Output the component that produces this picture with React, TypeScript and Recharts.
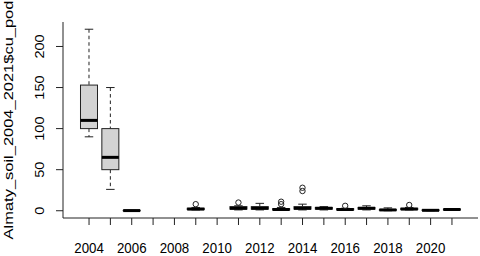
import React from 'react';
import { ComposedChart, Bar, XAxis, YAxis } from 'recharts';

const years = ['2004','2005','2006','2007','2008','2009','2010','2011','2012','2013','2014','2015','2016','2017','2018','2019','2020','2021'];
const mins:    (number|null)[] = [90, 26, 0,   null, null, 1,   null, 1, 1, 0.5, 1, 1, 0.5, 1, 0,   1,   0,   0.5];
const q1s:     (number|null)[] = [100, 50, 0,  null, null, 1.5, null, 2, 2, 1,   2, 2, 1,   2, 0.5, 1.5, 0.3, 1];
const medians: (number|null)[] = [110, 65, 0.2, null, null, 2,  null, 3, 3, 1.5, 3, 3, 1.5, 3, 1,   2,   0.5, 1.5];
const q3s:     (number|null)[] = [153, 100, 0.4, null, null, 3, null, 5, 5, 2.5, 5, 4, 2.5, 4, 1.5, 3,   1,   2];
const maxs:    (number|null)[] = [221, 150, 0.4, null, null, 4, null, 6, 9, 4,   8, 5, 3,   6, 3.5, 4,   1,   2];
const outliers: number[][] =     [[], [], [], [], [], [8], [], [10], [], [8, 11], [24, 28], [], [6], [], [], [7], [], []];
const yTicks = [0, 50, 100, 150, 200];
const yLabel = 'Almaty_soil_2004_2021$cu_pod';

const data = years.map((year, i) => {
  const mn = mins[i];
  const mx = maxs[i];
  if (mn == null || mx == null) return { year, range: null };
  const all = [mn, mx, ...outliers[i]];
  return {
    year,
    min: mn, q1: q1s[i], median: medians[i], q3: q3s[i], max: mx,
    out: outliers[i],
    lo: Math.min(...all), hi: Math.max(...all),
    range: [Math.min(...all), Math.max(...all)],
  };
});

const FONT = 'Liberation Sans, Arial, sans-serif';
const INK = '#222';

const BoxShape = (props: any) => {
  const { x, y, width, height, payload } = props;
  if (!payload || payload.min == null || payload.range == null) return null;
  const top = Math.min(y, y + height);
  const bottom = Math.max(y, y + height);
  const { lo, hi } = payload;
  const py = (v: number) => bottom - ((v - lo) / (hi - lo)) * (bottom - top);
  const cx = x + width / 2;
  const left = x;
  const right = x + width;
  const capL = cx - width / 4;
  const capR = cx + width / 4;
  const yq1 = py(payload.q1), yq3 = py(payload.q3), ymed = py(payload.median);
  const ymin = py(payload.min), ymax = py(payload.max);
  return (
    <g>
      <line x1={cx} x2={cx} y1={ymax} y2={yq3} stroke={INK} strokeDasharray="3.5 3" />
      <line x1={cx} x2={cx} y1={yq1} y2={ymin} stroke={INK} strokeDasharray="3.5 3" />
      <line x1={capL} x2={capR} y1={ymax} y2={ymax} stroke={INK} />
      <line x1={capL} x2={capR} y1={ymin} y2={ymin} stroke={INK} />
      <rect x={left} y={yq3} width={width} height={Math.max(yq1 - yq3, 0)} fill="#D3D3D3" stroke={INK} />
      <line x1={left} x2={right} y1={ymed} y2={ymed} stroke="#000" strokeWidth={3} />
      {payload.out.map((o: number, k: number) => (
        <circle key={k} cx={cx} cy={py(o)} r={2.7} fill="none" stroke={INK} />
      ))}
    </g>
  );
};

const XTick = (props: any) => {
  const { x, y, payload, index } = props;
  const i = payload?.index ?? index;
  if (i % 2 !== 0) return null;
  return (
    <text x={0} y={0} transform={`translate(${x}, ${y + 25.5}) scale(1, 1.15)`} textAnchor="middle" fontFamily={FONT} fontSize={13.3} fill="#000">
      {payload.value}
    </text>
  );
};

const YTick = (props: any) => {
  const { x, y, payload } = props;
  const bx = x - 10;
  return (
    <text x={0} y={0} transform={`translate(${bx}, ${y}) rotate(-90) scale(1.1, 1)`} textAnchor="middle" fontFamily={FONT} fontSize={13.2} fill="#000">
      {payload.value}
    </text>
  );
};

const YLabel = (props: any) => {
  const vb = props.viewBox || { x: 0, y: 22, width: 63, height: 196 };
  const bx = vb.x + 12.5;
  const cy = vb.y + vb.height / 2;
  return (
    <text x={0} y={0} transform={`translate(${bx}, ${cy}) rotate(-90) scale(1.22, 1)`} textAnchor="middle" fontFamily={FONT} fontSize={13.5} fill="#000">
      {yLabel}
    </text>
  );
};

export default function App() {
  return (
    <div style={{ position: 'absolute', left: 0, top: 0, background: '#fff' }}>
      <ComposedChart width={480} height={256} data={data} margin={{ top: 22, right: 2, bottom: 0, left: 0 }} barCategoryGap="10%">
        <XAxis xAxisId="b" dataKey="year" type="category" height={38} padding={{ left: 15.36, right: 15.36 }}
          tickSize={7} tickLine={{ stroke: INK }} axisLine={{ stroke: INK }} tick={<XTick />} interval={0} />
        <XAxis xAxisId="t" dataKey="year" type="category" orientation="top" height={0} tick={false} tickLine={false}
          axisLine={{ stroke: INK }} />
        <YAxis yAxisId="l" type="number" domain={[-8.84, 229.8]} allowDataOverflow ticks={yTicks} width={63}
          tickSize={7} tickLine={{ stroke: INK }} axisLine={{ stroke: INK }} tick={<YTick />} label={<YLabel />} />
        <YAxis yAxisId="r" type="number" orientation="right" domain={[-8.84, 229.8]} allowDataOverflow width={0}
          tick={false} tickLine={false} axisLine={{ stroke: INK }} />
        <Bar xAxisId="b" yAxisId="l" dataKey="range" shape={<BoxShape />} isAnimationActive={false} />
      </ComposedChart>
    </div>
  );
}
